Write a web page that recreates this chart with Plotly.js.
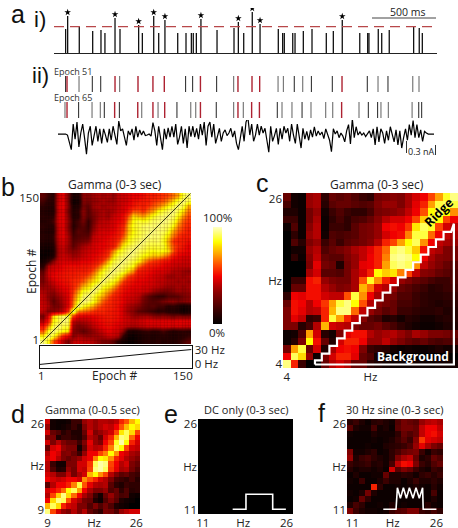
<!DOCTYPE html>
<html><head><meta charset="utf-8">
<script src="https://cdn.plot.ly/plotly-3.0.1.min.js"></script>
<style>html,body{margin:0;padding:0;background:#fff}#p{width:458px;height:528px}</style></head>
<body><div id="p"></div>
<script>
// --- panel a: spike times (ms) and peak heights
const spikeTimes=[91,107,198,303,368,399,478,517,663,692,781,820,869,969,1034,1076,1091,1115,1151,1277,1410,1444,1486,1553,1614,1757,1791,1804,1870,1888,1953,2021,2133,2188,2258,2395,2457,2467,2540,2567,2626,2817,2861,2885];
const spikeHeights=[24,37,26,22,23,20,35,24,28,20,37,20,33,20,20,20,20,20,34,23,25,31,20,41,29,24,20,20,20,20,22,24,20,22,33,20,20,20,24,20,23,26,25,20];
const thresholdLevel=26.3;
const e51Red=[102,478,658,775,864,1147,1441,1551,1611,2256];
const e51Grey=[196,514,1407,1755,1797,1948,2538,2810,2859];
const e51Black=[91,300,366,1031,1086,1274,1882,2016,2180,2454,2616];
const e65Red=[102,475,656,775,867,1147,1441,1548,1609,2253];
const e65Grey=[86,298,363,687,815,1071,1110,1407,1483,1786,1864,2013,2128,2183,2389,2561,2619,2805];
const e65Black=[193,394,512,963,1271,1749,1943,2462,2535,2857,2880];
// membrane current, in hundredths of nA
const currentTrace=[0,0,0,0,0,-2,-14,-30,19,-10,23,-25,2,19,-8,-39,2,15,-22,-6,15,-14,10,-18,10,-2,-16,10,-12,15,0,-20,25,6,10,-8,-22,6,-2,10,-12,15,-6,8,-2,6,-3,-2,0,-4,22,6,-22,15,-8,-30,10,-10,12,-6,15,-6,19,-20,-6,15,-18,10,-27,15,-5,
15,-6,11,-10,19,-2,23,-22,15,23,-6,19,-18,-4,11,-14,2,8,-3,2,11,-6,6,-18,-30,-8,15,-14,23,32,-2,19,-14,-2,19,-2,15,2,11,-12,-35,15,-14,-3,11,-20,11,-10,15,2,11,-14,19,-2,-18,19,-6,-27,11,-10,5,-12,8,-6,14,-4,
6,-2,4,-9,10,0,-12,-34,10,0,6,-7,2,-4,-15,6,18,-19,29,-7,14,-2,4,-2,2,-5,0,6,-7,10,-21,14,-15,10,2,-18,6,-12,14,-2,-15,8,-21,6,-27,-7,10,-12,18,-2,26,-7,18,-7,8,-14,5,2,0,0,0,0];

// --- panel b: epoch similarity, lower triangle, top row = epochs 146-150
const epochCentres=[3,8,13,18,23,28,33,38,43,48,53,58,63,68,73,78,83,88,93,98,103,108,113,118,123,128,133,138,143,148];
const gammaEpochRows=[
[30,22,18,50,54,36,10,12,40,38,42,45,42,45,40,48,50,52,55,55,58,62,62,65,68,70,75,80,92,98],
[25,18,20,50,54,36,5,8,38,35,40,42,45,42,42,48,50,52,58,60,62,62,68,70,72,78,85,92,98],
[20,15,18,52,55,38,12,15,35,30,42,45,42,45,45,48,52,55,60,65,62,68,72,76,82,88,92,98],
[15,12,15,50,53,34,15,20,40,28,38,42,45,42,45,50,52,60,72,72,68,75,80,88,92,95,98],
[18,15,20,52,54,38,15,18,38,28,35,42,45,42,50,52,58,72,85,82,80,85,90,94,96,98],
[15,18,25,52,54,40,20,25,35,22,35,45,48,48,52,55,60,78,88,92,90,92,95,96,98],
[20,15,20,50,53,38,18,25,30,22,38,48,48,50,52,58,65,82,90,92,95,96,96,98],
[15,12,18,50,54,40,22,30,28,25,42,50,52,52,55,60,68,82,88,92,94,96,98],
[18,15,22,50,54,44,25,28,30,30,48,52,52,55,58,62,72,85,90,92,95,98],
[15,12,20,48,52,44,28,32,35,38,50,52,55,58,60,68,80,88,92,95,98],
[10,8,15,46,50,42,30,38,45,48,52,55,55,58,62,75,88,92,95,98],
[5,3,12,44,48,42,38,42,48,50,52,55,58,65,78,88,92,96,98],
[3,5,15,46,50,48,42,45,50,52,55,58,62,70,85,92,95,98],
[8,20,38,50,52,52,50,52,55,55,58,62,70,82,92,95,98],
[18,45,50,52,56,58,58,58,60,60,65,72,82,90,95,98],
[30,50,52,56,58,60,60,62,62,65,72,82,90,94,98],
[35,50,56,58,60,62,62,65,68,72,80,88,92,98],
[35,45,50,56,58,60,65,68,72,80,85,90,98],
[40,42,46,52,56,58,65,72,82,85,92,98],
[45,42,40,48,52,56,68,80,90,92,98],
[48,40,35,42,48,54,72,85,95,98],
[48,42,30,38,46,54,75,90,98],
[50,45,35,36,44,55,78,98],
[48,38,38,42,48,68,98],
[35,55,85,92,95,96],
[45,62,88,92,98],
[60,78,92,98],
[72,90,98],
[88,98],
[98]];
// epochs where the reference shows a darker line in the mesh texture
const meshEpochs=[4,8,11,15,19,22,26,29,33,37,40,44,47,51,55,58,62,66,69,73,76,80,84,87,91,95,98,102,105,109,113,116,120,124,127,131,134,138,142,145,148];
const tuningEpochs=[1,25,50,75,100,125,150];
const tuningHz=[-1,4.5,10,15,20.5,26,31];
const scaleLevels=[0,10,20,30,40,50,60,70,80,90,100];

// --- panel c: Hz x Hz, top row = 26 Hz
const hzC=[4,5,6,7,8,9,10,11,12,13,14,15,16,17,18,19,20,21,22,23,24,25,26];
const gammaC=[
[25,5,3,35,38,12,25,22,25,20,15,12,28,30,32,30,38,45,50,60,72,88,95],
[18,5,3,35,38,10,22,25,25,22,20,22,30,35,35,30,38,48,55,72,90,92,90],
[8,8,3,28,35,5,15,20,15,12,12,18,28,30,32,35,42,50,62,85,92,85,70],
[15,15,3,28,38,3,12,18,12,18,20,25,32,40,45,45,50,60,78,92,85,60,50],
[3,20,3,32,40,3,15,15,12,22,28,30,35,50,52,50,58,82,92,88,60,45,40],
[0,12,3,35,40,5,20,18,20,22,28,30,35,45,50,52,68,90,90,65,50,42,38],
[0,20,10,30,35,15,22,15,22,25,28,32,40,55,60,72,85,92,70,50,42,38,35],
[0,5,5,35,40,20,25,28,32,38,42,48,55,65,92,95,90,78,52,42,38,30,28],
[0,12,3,32,42,25,22,22,30,35,42,50,55,68,95,97,95,85,50,38,32,30,28],
[0,0,0,30,48,28,25,8,28,35,48,50,55,72,92,95,92,70,42,35,30,25,22],
[0,0,0,38,45,22,22,20,28,38,45,55,85,78,82,68,60,42,32,30,25,22,20],
[0,15,15,52,55,35,30,28,28,38,62,88,70,55,45,35,30,25,22,18,15,15,20],
[0,25,25,52,52,40,35,30,32,38,75,65,45,40,35,25,22,18,15,10,12,15,18],
[12,50,48,52,52,45,42,42,62,90,70,50,38,30,28,20,20,15,12,10,10,12,15],
[25,52,50,40,50,58,72,90,95,85,62,40,32,28,25,18,18,15,12,10,8,10,12],
[30,52,48,40,42,55,75,95,95,65,42,35,28,22,25,15,15,12,10,10,12,8,10],
[30,48,42,12,15,55,90,72,55,42,32,22,18,8,10,5,10,8,5,5,8,10,10],
[30,30,10,18,40,75,45,42,40,30,25,25,28,22,18,12,8,5,3,3,5,8,8],
[3,5,20,72,45,10,5,30,48,52,52,40,35,38,40,35,30,38,35,30,30,28,25],
[3,10,30,85,52,25,8,45,55,55,50,35,35,42,35,30,25,22,25,20,18,20,20],
[28,72,90,25,45,8,38,50,52,50,30,15,12,10,5,3,5,3,3,5,8,5,5],
[50,92,80,35,3,30,45,55,55,48,25,20,5,0,0,0,0,0,0,0,0,0,0],
[95,55,15,0,0,25,40,45,40,25,25,12,8,5,3,3,3,5,3,3,5,5,5]];
const ridgeX=[7.7,7.7,8.6,8.6,9.6,9.6,10.6,10.6,11.6,11.6,12.6,12.6,13.6,13.6,14.6,14.6,15.6,15.6,16.6,16.6,17.6,17.6,18.6,18.6,19.6,19.6,20.6,20.6,21.6,21.6,22.6,22.6,23.6,23.6,24.6,24.6,25.6,25.96,25.96,7.7];
const ridgeY=[3.96,4.5,4.5,5.4,5.4,6.4,6.4,7.4,7.4,8.4,8.4,9.4,9.4,10.4,10.4,11.4,11.4,12.4,12.4,13.4,13.4,14.4,14.4,15.4,15.4,16.4,16.4,17.4,17.4,18.4,18.4,19.4,19.4,20.4,20.4,21.4,21.4,22.47,3.96,3.96];

// --- panel d
const hzD=[9,10,11,12,13,14,15,16,17,18,19,20,21,22,23,24,25,26];
const gammaD=[
[45,5,3,3,5,15,15,35,40,35,40,40,38,42,55,62,75,85],
[35,5,3,5,8,15,8,30,40,35,40,45,42,50,62,75,85,80],
[45,25,20,10,15,8,8,25,45,30,35,40,45,60,82,92,80,60],
[30,30,8,15,15,10,8,20,40,35,25,45,55,75,95,92,65,50],
[45,30,40,30,25,25,15,30,48,35,30,50,60,88,98,85,55,45],
[25,45,50,35,30,30,5,25,45,40,42,55,68,92,85,60,45,42],
[40,50,45,30,32,25,15,35,50,50,60,68,85,70,50,45,38,35],
[45,50,40,30,25,30,35,45,50,68,85,82,70,55,48,40,35,30],
[40,15,5,5,30,30,45,45,58,92,98,95,60,50,40,45,30,25],
[40,20,8,10,35,28,45,42,60,95,98,92,58,48,38,40,28,20],
[45,40,30,30,42,28,38,45,75,85,70,60,40,30,22,25,18,15],
[50,45,42,45,50,50,45,70,62,55,45,40,30,18,15,12,18,10],
[22,40,50,50,55,68,90,62,48,40,38,40,22,12,8,15,12,12],
[45,50,55,65,85,92,72,50,38,30,30,35,20,25,12,20,10,12],
[40,60,78,95,80,65,50,38,30,15,5,25,35,25,18,20,5,3],
[50,80,95,92,62,45,38,28,25,8,3,20,30,22,8,5,3,0],
[75,92,80,55,45,42,30,30,20,30,20,28,20,8,5,3,0,0],
[95,60,45,35,30,40,30,40,25,18,12,30,28,20,35,40,45,45]];

// --- panels e, f
const hzEF=[11,12,13,14,15,16,17,18,19,20,21,22,23,24,25,26];
const dcOnly=hzEF.map(()=>hzEF.map(()=>0));
const dcPulseX=[16.34,18.58,18.58,23.08,23.08,25.3];
const dcPulseY=[11.29,11.29,13.82,13.82,11.29,11.29];
const sine30=[
[10,15,8,3,10,12,8,5,20,28,25,22,35,40,42,38],
[22,8,5,5,18,5,8,3,22,28,28,25,42,50,50,42],
[5,3,3,3,8,5,5,5,12,25,20,25,42,50,52,45],
[3,3,3,3,5,3,5,8,15,22,15,32,58,48,45,42],
[3,3,3,5,3,3,8,10,12,15,20,35,48,38,30,25],
[30,5,5,8,12,3,5,12,18,25,28,30,15,5,15,12],
[35,8,15,18,12,8,5,12,30,38,42,25,8,12,25,20],
[15,10,12,15,8,10,5,18,42,52,50,30,15,10,20,25],
[10,5,8,8,5,8,3,45,22,30,25,15,8,5,15,12],
[3,8,3,3,5,5,25,8,8,12,10,5,12,15,10,15],
[5,3,15,3,3,8,15,8,8,3,8,15,8,8,12,8],
[3,3,3,3,55,12,3,3,5,3,5,8,5,3,10,5],
[5,3,8,28,8,3,3,3,3,5,3,3,3,3,18,3],
[3,5,25,12,3,3,3,3,3,3,3,3,3,3,8,3],
[8,18,12,3,3,5,3,8,3,5,3,3,3,10,5,3],
[30,15,8,5,5,3,5,15,20,22,30,30,15,12,18,12]];
const sineX=[16.55,18.67,18.9,19.4,19.9,20.4,20.9,21.5,22,22.55,23.1,23.2,25.4];
const sineY=[11.29,11.29,14.93,13.14,14.93,13.14,14.93,13.14,14.93,13.14,14.93,11.29,11.29];

const W=458,H=528;
const font="'Open Sans','Noto Sans',sans-serif";
const heatScale=[[0,'#000000'],[.15,'#3a0000'],[.33,'#8a0000'],[.5,'#f00000'],[.62,'#ff5000'],[.72,'#ffa000'],[.85,'#ffff00'],[1,'#ffffc0']];
const heatScaleB=[[0,'#000000'],[.2,'#2a0000'],[.4,'#900000'],[.55,'#e80000'],[.68,'#ff3000'],[.78,'#ff9000'],[.88,'#ffff00'],[1,'#ffffa0']];
const layout={width:W,height:H,margin:{l:0,r:0,t:0,b:0},paper_bgcolor:'#fff',plot_bgcolor:'rgba(0,0,0,0)',showlegend:false,annotations:[]};
function panel(n,x0,x1,y0,y1,xr,yr,xo={},yo={}){
  const s=n===1?'':n;
  const base={showgrid:false,zeroline:false,showticklabels:false,ticks:'',fixedrange:true,tickfont:{family:font,size:11.5,color:'#222'}};
  layout['xaxis'+s]=Object.assign({},base,{domain:[x0/W,x1/W],range:xr,anchor:'y'+s},xo);
  layout['yaxis'+s]=Object.assign({},base,{domain:[1-y1/H,1-y0/H],range:yr,anchor:'x'+s},yo);
  return {xaxis:'x'+s,yaxis:'y'+s};
}
function note(text,x,y,o={}){
  layout.annotations.push(Object.assign({text,x:x/W,y:1-y/H,xref:'paper',yref:'paper',showarrow:false,xanchor:'center',yanchor:'middle',font:{family:font,size:11.5,color:'#222'}},o));
}
const letter={family:"'Liberation Sans',Arial,sans-serif",size:25,color:'#111'};
const ticks=(vals,text)=>({showticklabels:true,tickmode:'array',tickvals:vals,ticktext:text});
const data=[];

// panel a-i
const A1=panel(1,54,437,8,53,[0,3000],[0,45],{showline:true,linecolor:'#222',linewidth:1});
const sx=[],sy=[];
spikeTimes.forEach((t,i)=>{sx.push(t,t,null);sy.push(0,spikeHeights[i],null);});
data.push(Object.assign({type:'scatter',mode:'lines',x:sx,y:sy,line:{color:'#111',width:1.3},hoverinfo:'skip'},A1));
data.push(Object.assign({type:'scatter',mode:'lines',x:[0,3000],y:[thresholdLevel,thresholdLevel],line:{color:'#b8474a',width:1.2,dash:'10px,6px'}},A1));
const sel=spikeTimes.map((t,i)=>i).filter(i=>spikeHeights[i]>thresholdLevel);
data.push(Object.assign({type:'scatter',mode:'markers',x:sel.map(i=>spikeTimes[i]),y:sel.map(i=>spikeHeights[i]+3.7),marker:{symbol:'star',size:5,color:'#000'}},A1));

// raster
const A2=panel(2,54,437,76,118,[0,3000],[0,42]);
function raster(times,y0,y1,color,w){
  const x=[],y=[];times.forEach(t=>{x.push(t,t,null);y.push(y0,y1,null);});
  data.push(Object.assign({type:'scatter',mode:'lines',x,y,line:{color,width:w}},A2));
}
raster(e51Grey,26,42,'#7a7a7a',1.2);raster(e51Black,26,42,'#222',1);raster(e51Red,26,42,'#ad2231',1.4);
raster(e65Grey,0,16,'#7a7a7a',1.2);raster(e65Black,0,16,'#222',1);raster(e65Red,0,16,'#ad2231',1.4);

// current
const A3=panel(3,54,437,120,160,[0,3000],[-50,27]);
const tEnd=(434-54)/383*3000,tStart=(58-54)/383*3000;
data.push(Object.assign({type:'scatter',mode:'lines',x:currentTrace.map((v,i)=>tStart+i*(tEnd-tStart)/(currentTrace.length-1)),y:currentTrace,line:{color:'#000',width:1.2}},A3));

// scale bars in panel a
layout.shapes=[
 {type:'line',xref:'paper',yref:'paper',x0:372/W,x1:436/W,y0:1-18/H,y1:1-18/H,line:{color:'#444',width:1}},
 {type:'line',xref:'paper',yref:'paper',x0:406.5/W,x1:406.5/W,y0:1-141/H,y1:1-153/H,line:{color:'#333',width:1}},
 {type:'line',xref:'paper',yref:'paper',x0:435.5/W,x1:435.5/W,y0:1-145/H,y1:1-155/H,line:{color:'#333',width:1}}
];

// panel b
const B=panel(4,40,191,193,344,[0.5,150.5],[0.5,150.5],{},ticks([146,5],['150','1']));
const rows=gammaEpochRows.slice().reverse();
const gammaB=epochCentres.map((_,i)=>epochCentres.map((_,j)=>i>=j?rows[i][j]:rows[j][i]));
data.push(Object.assign({type:'heatmap',x:epochCentres,y:epochCentres,z:gammaB,zmin:0,zmax:100,zsmooth:'best',colorscale:heatScaleB,showscale:false},B));
const mx=[],my=[];
meshEpochs.forEach(e=>{mx.push(e,e,null,0,151,null);my.push(0,151,null,e,e,null);});
data.push(Object.assign({type:'scatter',mode:'lines',x:mx,y:my,line:{color:'rgba(70,0,0,0.16)',width:1}},B));
data.push(Object.assign({type:'scatter',mode:'lines',x:[1,150],y:[1,150],line:{color:'#3c3c10',width:1}},B));
const BS=panel(5,39.5,191.5,346,368,[1,150],[-8.6,38.6],{showline:true,mirror:true,linecolor:'#111',linewidth:1},
  Object.assign({showline:true,mirror:true,linecolor:'#111',linewidth:1,side:'right'},ticks([0,30],['0 Hz','30 Hz'])));
data.push(Object.assign({type:'scatter',mode:'lines',x:tuningEpochs,y:tuningHz,line:{color:'#111',width:1}},BS));
const CB=panel(6,213,222,227,324,[0,1],[0,100]);
data.push(Object.assign({type:'heatmap',x:[0,1],y:scaleLevels,z:scaleLevels.map(v=>[v,v]),zmin:0,zmax:100,zsmooth:'best',colorscale:heatScale,showscale:false},CB));

// panel c
const C=panel(7,283,458,193,368,[3.5,26.5],[3.5,26.5],ticks([4,15,26],['4','Hz','26']),ticks([4,15,25.7],['4','Hz','26']));
data.push(Object.assign({type:'heatmap',x:hzC,y:hzC.slice().reverse(),z:gammaC,zmin:0,zmax:100,colorscale:heatScale,showscale:false},C));
data.push(Object.assign({type:'scatter',mode:'lines',x:ridgeX,y:ridgeY,line:{color:'#fff',width:2.2}},C));

// panel d
const D=panel(8,45,140,419,514,[8.5,26.5],[8.5,26.5],ticks([9,17.8,25.8],['9','Hz','26']),ticks([9.2,17.6,25.6],['9','Hz','26']));
data.push(Object.assign({type:'heatmap',x:hzD,y:hzD.slice().reverse(),z:gammaD,zmin:0,zmax:100,colorscale:heatScale,showscale:false},D));

// panel e
const E=panel(9,198,293,419,514,[10.5,26.5],[10.5,26.5],ticks([11.3,18.1,25.4],['11','Hz','26']),ticks([11.1,18.4,25.7],['11','Hz','26']));
data.push(Object.assign({type:'heatmap',x:hzEF,y:hzEF,z:dcOnly,zmin:0,zmax:100,colorscale:heatScale,showscale:false},E));
data.push(Object.assign({type:'scatter',mode:'lines',x:dcPulseX,y:dcPulseY,line:{color:'#fff',width:1.6}},E));

// panel f
const F=panel(10,347,443,419,514,[10.5,26.5],[10.5,26.5],ticks([11.4,18.1,25.4],['11','Hz','26']),ticks([11.1,18.4,25.7],['11','Hz','26']));
data.push(Object.assign({type:'heatmap',x:hzEF,y:hzEF.slice().reverse(),z:sine30,zmin:0,zmax:100,colorscale:heatScale,showscale:false},F));
data.push(Object.assign({type:'scatter',mode:'lines',x:sineX,y:sineY,line:{color:'#fff',width:1.6}},F));

// text
note('a',18,14,{font:letter});
note('b',8,187,{font:letter});
note('c',262,183,{font:letter});
note('d',18,414,{font:letter});
note('e',171,414,{font:letter});
note('f',321,413,{font:letter});
const roman={family:"'Liberation Sans',Arial,sans-serif",size:22,color:'#111'};
note('i)',40,20,{font:roman});
note('ii)',40,76,{font:roman});
const small={family:font,size:9,color:'#333'};
note('Epoch 51',73,71,{font:small});
note('Epoch 65',73,97,{font:small});
note('500 ms',407,12,{font:{family:font,size:10.5,color:'#222'}});
note('0.3 nA',421,151,{font:{family:font,size:9,color:'#222'}});
const title={family:font,size:12,color:'#222'},subTitle={family:font,size:11,color:'#222'};
note('Gamma (0-3 sec)',115,185,{font:title});
note('Gamma (0-3 sec)',377,185,{font:title});
note('Gamma (0-0.5 sec)',92,409,{font:subTitle});
note('DC only (0-3 sec)',246,409,{font:subTitle});
note('30 Hz sine (0-3 sec)',395,409,{font:subTitle});
note('Epoch #',31,272,{textangle:-90,font:title});
note('1',41,375);note('Epoch #',115,375,{font:title});note('150',183,375);
note('100%',217,217);note('0%',217,332);
note('Ridge',439,213,{textangle:-45,font:{family:font,size:12.5,color:'#000',weight:700}});
note('Background',413,356,{font:{family:font,size:12,color:'#fff',weight:700}});

Plotly.newPlot('p',data,layout,{staticPlot:true,displayModeBar:false});
</script></body></html>
